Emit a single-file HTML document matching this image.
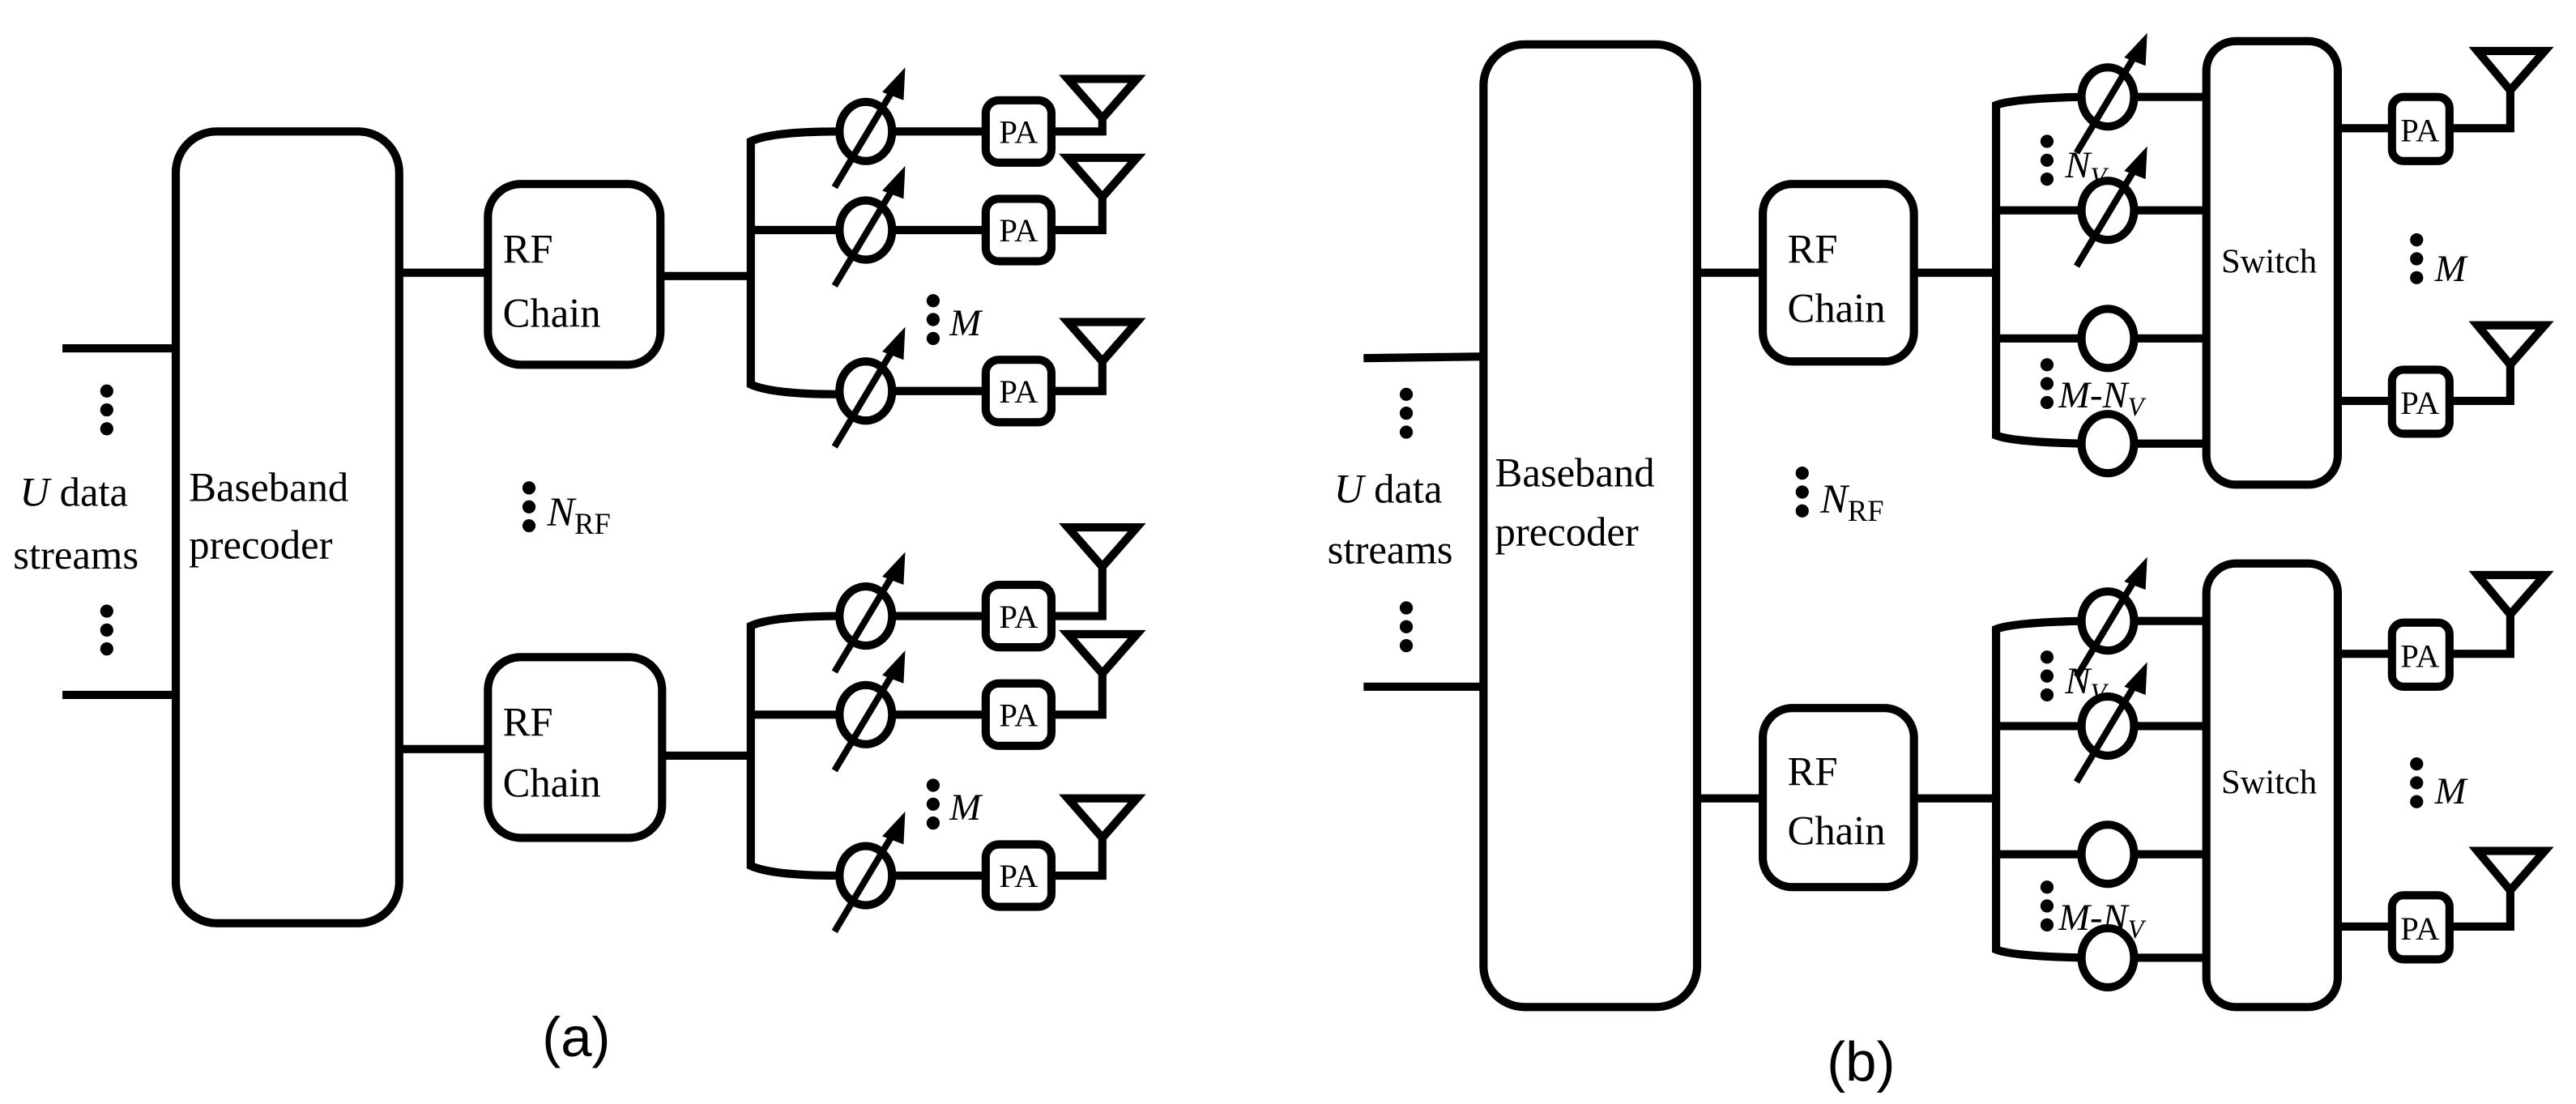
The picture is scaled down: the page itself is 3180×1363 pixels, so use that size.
<!DOCTYPE html>
<html><head><meta charset="utf-8">
<style>
html,body{margin:0;padding:0;background:#fff;}
svg{display:block;}
</style></head><body>
<svg width="3180" height="1363" viewBox="0 0 1568 672" xmlns="http://www.w3.org/2000/svg" font-family="'Liberation Serif', 'DejaVu Serif', serif">
<defs>
<g id="ps">
<line x1="-19" y1="34" x2="17" y2="-26" stroke="#000" stroke-width="4"/>
<polygon points="24,-39 10,-24 23,-19" fill="#000"/>
<ellipse cx="0" cy="0" rx="16" ry="18" fill="none" stroke="#000" stroke-width="5"/>
</g>
<g id="ci">
<ellipse cx="0" cy="0" rx="16" ry="18" fill="#fff" stroke="#000" stroke-width="5"/>
</g>
<g id="dots"><circle cx="0" cy="0" r="4"/><circle cx="0" cy="11.5" r="4"/><circle cx="0" cy="23" r="4"/></g>
</defs>
<g fill="none" stroke="#000" stroke-width="5" stroke-linejoin="miter">
<!-- ===== Panel a ===== -->
<line x1="38" y1="212" x2="107" y2="212"/>
<line x1="38" y1="423" x2="107" y2="423"/>
<rect x="107" y="80" width="136" height="482" rx="25"/>
<line x1="243" y1="166" x2="297" y2="166"/>
<rect x="297" y="112" width="105" height="110" rx="20"/>
<line x1="402" y1="168" x2="457" y2="168"/>
<path d="M511 80 Q470 80 457 86 L457 234 Q470 240 511 240"/>
<line x1="457" y1="140" x2="511" y2="140"/>
<line x1="543" y1="80" x2="600" y2="80"/><line x1="543" y1="140" x2="600" y2="140"/><line x1="543" y1="238" x2="600" y2="238"/>
<rect x="600" y="61" width="40" height="38" rx="8"/><rect x="600" y="121" width="40" height="38" rx="8"/><rect x="600" y="219" width="40" height="38" rx="8"/>
<polyline points="640,80 671,80 671,72"/><polygon points="650,48 692,48 671,72"/>
<polyline points="640,140 671,140 671,120"/><polygon points="650,96 692,96 671,120"/>
<polyline points="640,238 671,238 671,220"/><polygon points="650,196 692,196 671,220"/>
<line x1="243" y1="456" x2="297" y2="456"/>
<rect x="297" y="400" width="106" height="110" rx="20"/>
<line x1="403" y1="460" x2="457" y2="460"/>
<path d="M511 375 Q470 375 457 381 L457 527 Q470 533 511 533"/>
<line x1="457" y1="435" x2="511" y2="435"/>
<line x1="543" y1="375" x2="600" y2="375"/><line x1="543" y1="435" x2="600" y2="435"/><line x1="543" y1="533" x2="600" y2="533"/>
<rect x="600" y="356" width="40" height="38" rx="8"/><rect x="600" y="416" width="40" height="38" rx="8"/><rect x="600" y="514" width="40" height="38" rx="8"/>
<polyline points="640,375 671,375 671,345"/><polygon points="650,321 692,321 671,345"/>
<polyline points="640,435 671,435 671,410"/><polygon points="650,386 692,386 671,410"/>
<polyline points="640,533 671,533 671,510"/><polygon points="650,486 692,486 671,510"/>

<!-- ===== Panel b ===== -->
<line x1="830" y1="218" x2="903" y2="217"/>
<line x1="830" y1="418" x2="903" y2="418"/>
<rect x="903" y="27" width="130" height="586" rx="25"/>
<line x1="1033" y1="166" x2="1073" y2="166"/>
<rect x="1073" y="112" width="92" height="108" rx="18"/>
<line x1="1165" y1="166" x2="1215" y2="166"/>
<path d="M1267 59 Q1225 60 1215 64 L1215 265 Q1225 269 1267 270"/>
<line x1="1215" y1="128" x2="1267" y2="128"/><line x1="1215" y1="206" x2="1267" y2="206"/>
<line x1="1299" y1="59" x2="1343" y2="59"/><line x1="1299" y1="128" x2="1343" y2="128"/><line x1="1299" y1="206" x2="1343" y2="206"/><line x1="1299" y1="270" x2="1343" y2="270"/>
<rect x="1343" y="25" width="80" height="270" rx="18"/>
<line x1="1423" y1="78" x2="1456" y2="78"/><line x1="1423" y1="244" x2="1456" y2="244"/>
<rect x="1456" y="59" width="35" height="39" rx="7"/><rect x="1456" y="225" width="35" height="39" rx="7"/>
<polyline points="1491,78 1528,78 1528,55"/><polygon points="1508,31 1549,31 1528,55"/>
<polyline points="1491,244 1528,244 1528,222"/><polygon points="1508,198 1549,198 1528,222"/>
<line x1="1033" y1="486" x2="1073" y2="486"/>
<rect x="1073" y="431" width="92" height="109" rx="18"/>
<line x1="1165" y1="486" x2="1215" y2="486"/>
<path d="M1267 378 Q1225 379 1215 383 L1215 578 Q1225 582 1267 583"/>
<line x1="1215" y1="442" x2="1267" y2="442"/><line x1="1215" y1="520" x2="1267" y2="520"/>
<line x1="1299" y1="378" x2="1343" y2="378"/><line x1="1299" y1="442" x2="1343" y2="442"/><line x1="1299" y1="520" x2="1343" y2="520"/><line x1="1299" y1="583" x2="1343" y2="583"/>
<rect x="1343" y="343" width="80" height="270" rx="18"/>
<line x1="1423" y1="398" x2="1456" y2="398"/><line x1="1423" y1="564" x2="1456" y2="564"/>
<rect x="1456" y="379" width="35" height="39" rx="7"/><rect x="1456" y="545" width="35" height="39" rx="7"/>
<polyline points="1491,398 1528,398 1528,374"/><polygon points="1508,350 1549,350 1528,374"/>
<polyline points="1491,564 1528,564 1528,542"/><polygon points="1508,518 1549,518 1528,542"/>
</g>

<use href="#ps" x="527" y="80"/><use href="#ps" x="527" y="140"/><use href="#ps" x="527" y="238"/>
<use href="#ps" x="527" y="375"/><use href="#ps" x="527" y="435"/><use href="#ps" x="527" y="533"/>
<use href="#ps" x="1283" y="59"/><use href="#ps" x="1283" y="128"/><use href="#ci" x="1283" y="206"/><use href="#ci" x="1283" y="270"/>
<use href="#ps" x="1283" y="378"/><use href="#ps" x="1283" y="442"/><use href="#ci" x="1283" y="520"/><use href="#ci" x="1283" y="583"/>

<use href="#dots" x="65" y="238"/><use href="#dots" x="65" y="372"/>
<use href="#dots" x="568" y="183"/><use href="#dots" x="568" y="478"/>
<use href="#dots" x="322" y="297"/>
<use href="#dots" x="856" y="240"/><use href="#dots" x="856" y="370"/>
<use href="#dots" x="1097" y="288"/>
<use href="#dots" x="1246" y="86"/><use href="#dots" x="1246" y="222"/>
<use href="#dots" x="1246" y="400"/><use href="#dots" x="1246" y="540"/>
<use href="#dots" x="1471" y="146"/><use href="#dots" x="1471" y="465"/>

<g font-family="'Liberation Serif', serif" fill="#000">
<text x="12" y="308" font-size="25"><tspan font-style="italic">U</tspan> data</text>
<text x="8" y="346" font-size="25">streams</text>
<text x="115" y="305" font-size="25">Baseband</text>
<text x="115" y="340" font-size="25">precoder</text>
<text x="306" y="160" font-size="25">RF</text><text x="306" y="199" font-size="25">Chain</text>
<text x="306" y="448" font-size="25">RF</text><text x="306" y="485" font-size="25">Chain</text>
<g font-size="20" text-anchor="middle">
<text x="620" y="87">PA</text><text x="620" y="147">PA</text><text x="620" y="245">PA</text>
<text x="620" y="382">PA</text><text x="620" y="442">PA</text><text x="620" y="540">PA</text>
<text x="1473" y="86">PA</text><text x="1473" y="252">PA</text>
<text x="1473" y="406">PA</text><text x="1473" y="572">PA</text>
</g>
<text x="578" y="204" font-size="23" font-style="italic">M</text>
<text x="578" y="499" font-size="23" font-style="italic">M</text>
<text x="333" y="320" font-size="25"><tspan font-style="italic">N</tspan><tspan font-size="18" dy="5">RF</tspan></text>
<text x="812" y="306" font-size="25"><tspan font-style="italic">U</tspan> data</text>
<text x="808" y="343" font-size="25">streams</text>
<text x="910" y="296" font-size="25">Baseband</text>
<text x="910" y="332" font-size="25">precoder</text>
<text x="1088" y="160" font-size="25">RF</text><text x="1088" y="196" font-size="25">Chain</text>
<text x="1088" y="478" font-size="25">RF</text><text x="1088" y="514" font-size="25">Chain</text>
<text x="1108" y="312" font-size="25"><tspan font-style="italic">N</tspan><tspan font-size="18" dy="5">RF</tspan></text>
<text x="1352" y="166" font-size="21">Switch</text>
<text x="1352" y="483" font-size="21">Switch</text>
<text x="1482" y="171" font-size="23" font-style="italic">M</text>
<text x="1482" y="489" font-size="23" font-style="italic">M</text>
<text x="1257" y="108" font-size="23" font-style="italic">N<tspan font-size="16" dy="5">V</tspan></text>
<text x="1253" y="248" font-size="23" font-style="italic">M-N<tspan font-size="16" dy="5">V</tspan></text>
<text x="1257" y="422" font-size="23" font-style="italic">N<tspan font-size="16" dy="5">V</tspan></text>
<text x="1253" y="566" font-size="23" font-style="italic">M-N<tspan font-size="16" dy="5">V</tspan></text>
</g>
<text x="330" y="643" font-size="34" font-family="'Liberation Sans', sans-serif">(a)</text>
<text x="1112" y="658" font-size="34" font-family="'Liberation Sans', sans-serif">(b)</text>
</svg>
</body></html>
